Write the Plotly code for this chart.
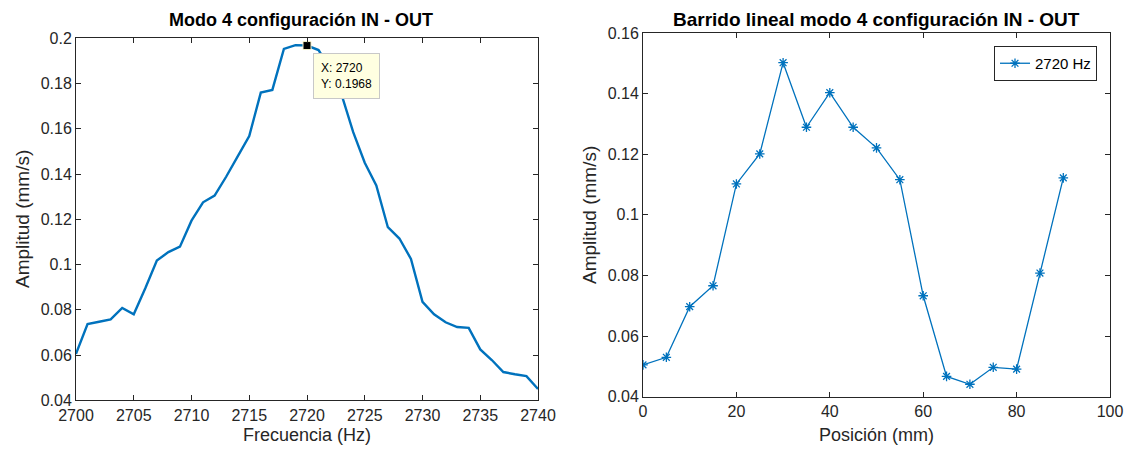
import plotly.graph_objects as go

# ---- data ----
freq_hz = list(range(2700, 2741))
amp_freq = [0.0605, 0.0737, 0.0747, 0.0758, 0.0808, 0.0780, 0.0895, 0.1018, 0.1055, 0.1079,
            0.1194, 0.1275, 0.1305, 0.1388, 0.1478, 0.1568, 0.1760, 0.1772, 0.1953, 0.1970,
            0.1968, 0.1948, 0.1865, 0.1750, 0.1585, 0.1450, 0.1350, 0.1165, 0.1115, 0.1025,
            0.0835, 0.0780, 0.0745, 0.0724, 0.0720, 0.0625, 0.0578, 0.0525, 0.0515, 0.0507,
            0.0450]
tip_index = 20  # data tip at 2720 Hz

pos_mm = [0, 5, 10, 15, 20, 25, 30, 35, 40, 45, 50, 55, 60, 65, 70, 75, 80, 85, 90]
amp_pos = [0.0505, 0.0530, 0.0697, 0.0766, 0.1102, 0.1201, 0.1502, 0.1289, 0.1403, 0.1289,
           0.1221, 0.1116, 0.0733, 0.0467, 0.0441, 0.0497, 0.0491, 0.0808, 0.1122]

left_yticks = [0.04, 0.06, 0.08, 0.1, 0.12, 0.14, 0.16, 0.18, 0.2]
left_xticks = [2700, 2705, 2710, 2715, 2720, 2725, 2730, 2735, 2740]
right_yticks = [0.04, 0.06, 0.08, 0.1, 0.12, 0.14, 0.16]
right_xticks = [0, 20, 40, 60, 80, 100]

# page offset (default body margin) and figure size so it fits the window
OFF = 8
W, H = 1132 - 2 * OFF, 455 - 2 * OFF
BLUE = '#0072BD'
AX = '#262626'
FONT = 'Liberation Sans'


def px(x):
    return (x - OFF) / W


def py(y):
    return 1 - (y - OFF) / H


fig = go.Figure()
fig.add_trace(go.Scatter(x=freq_hz, y=amp_freq, mode='lines',
                         line=dict(color=BLUE, width=2.4), showlegend=False,
                         xaxis='x', yaxis='y'))
fig.add_trace(go.Scatter(x=[freq_hz[tip_index]], y=[amp_freq[tip_index]], mode='markers',
                         marker=dict(symbol='square', size=8, color='black',
                                     line=dict(color='#f5f0c8', width=1)),
                         showlegend=False, xaxis='x', yaxis='y'))
fig.add_trace(go.Scatter(x=pos_mm, y=amp_pos, mode='lines+markers', name='2720 Hz',
                         line=dict(color=BLUE, width=1.3),
                         marker=dict(symbol='asterisk-open', size=8,
                                     line=dict(color=BLUE, width=1.3)),
                         xaxis='x2', yaxis='y2'))

axis_common = dict(showline=True, linecolor=AX, linewidth=1, mirror='ticks',
                   ticks='inside', ticklen=5, tickcolor=AX, tickwidth=1,
                   showgrid=False, zeroline=False, automargin=False,
                   tickfont=dict(family=FONT, size=16, color=AX))

fig.update_layout(
    width=W, height=H,
    margin=dict(l=0, r=0, t=0, b=0, autoexpand=False),
    paper_bgcolor='white', plot_bgcolor='white',
    font=dict(family=FONT, color=AX),
    xaxis=dict(axis_common, domain=[px(76), px(538)], range=[2700, 2740],
               tickvals=left_xticks, anchor='y'),
    yaxis=dict(axis_common, domain=[py(400.3), py(38.3)], range=[0.04, 0.2],
               tickvals=left_yticks, ticktext=[f'{v:g}' for v in left_yticks], anchor='x'),
    xaxis2=dict(axis_common, domain=[px(643), px(1110)], range=[0, 100],
                tickvals=right_xticks, anchor='y2'),
    yaxis2=dict(axis_common, domain=[py(396.7), py(33)], range=[0.04, 0.16],
                tickvals=right_yticks, ticktext=[f'{v:g}' for v in right_yticks], anchor='x2'),
    legend=dict(x=px(1097), y=py(46), xanchor='right', yanchor='top',
                bgcolor='white', bordercolor=AX, borderwidth=1, tracegroupgap=0,
                font=dict(family=FONT, size=15, color='black'), itemwidth=30),
)


def paper_text(text, x, y, size, color=AX, angle=0):
    return dict(text=text, x=px(x), y=py(y), xref='paper', yref='paper',
                xanchor='center', yanchor='middle', showarrow=False, textangle=angle,
                font=dict(family=FONT, size=size, color=color))


ann = [
    paper_text('<b>Modo 4 configuración IN - OUT</b>', 301, 20, 18, 'black'),
    paper_text('<b>Barrido lineal modo 4 configuración IN - OUT</b>', 876, 20, 19, 'black'),
    paper_text('Frecuencia (Hz)', 307, 435, 18),
    paper_text('Posición (mm)', 876, 435, 18),
    paper_text('Amplitud (mm/s)', 22, 219, 19, angle=-90),
    paper_text('Amplitud (mm/s)', 589, 215, 19, angle=-90),
    dict(text=f'X: {freq_hz[tip_index]}<br>Y: {amp_freq[tip_index]:.4f}',
         x=freq_hz[tip_index], y=amp_freq[tip_index], xref='x', yref='y',
         showarrow=False, xanchor='left', yanchor='top', xshift=6, yshift=-7,
         align='left', bgcolor='#ffffe1', bordercolor='#c8c8c8', borderwidth=1,
         borderpad=7, font=dict(family=FONT, size=12, color='black')),
]
fig.update_layout(annotations=ann)

fig.write_html('out.html')
